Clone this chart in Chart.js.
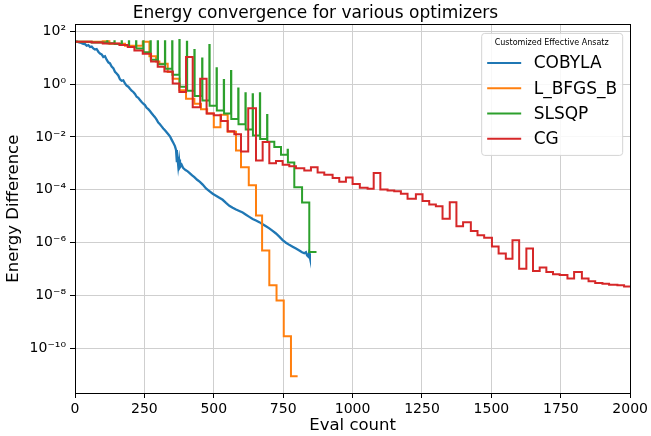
<!DOCTYPE html>
<html>
<head>
<meta charset="utf-8">
<script src="https://cdn.jsdelivr.net/npm/chart.js@4.4.1/dist/chart.umd.min.js"></script>
<style>
  html, body { margin: 0; padding: 0; background: #fff; }
</style>
</head>
<body>
<canvas id="energyChart" width="651" height="436"></canvas>
<script>
// Energy convergence

const yTickPowers = [2, 0, -2, -4, -6, -8, -10];

// COBYLA (noisy, plain line)
const cobylaEvals = [0, 8, 15, 22, 30, 36, 42, 48, 54, 60,
    66, 72, 78, 84, 90, 96, 102, 108, 114, 120,
    126, 132, 138, 144, 150, 156, 162, 168, 174, 180,
    186, 192, 198, 204, 210, 216, 222, 228, 234, 240,
    246, 252, 258, 264, 270, 276, 282, 288, 294, 300,
    306, 312, 318, 324, 330, 336, 342, 348, 354, 360,
    364, 367, 369, 372, 375, 378, 384, 390, 398, 406,
    414, 422, 430, 440, 450, 460, 472, 484, 496, 508,
    520, 532, 544, 556, 568, 580, 592, 604, 616, 628,
    640, 652, 664, 676, 688, 700, 712, 724, 736, 748,
    760, 772, 784, 796, 808, 818, 826, 832, 836, 840,
    843, 846];
const cobylaDiffs = [41, 40, 37, 36, 33, 32, 28, 29.5, 25, 26,
    22, 20, 21, 16.6, 14.1, 13.2, 10.5, 11.2, 8.3, 6.6,
    6.0, 4.6, 4.0, 2.9, 2.5, 2.1, 1.5, 1.32, 1.38, 1.05,
    0.87, 0.79, 0.66, 0.56, 0.50, 0.42, 0.33, 0.30, 0.25, 0.21,
    0.18, 0.16, 0.126, 0.112, 0.095, 0.079, 0.066, 0.056, 0.045, 0.035,
    0.030, 0.025, 0.021, 0.0178, 0.0151, 0.0126, 0.0105, 0.0079, 0.0060, 0.0045,
    0.0032, 0.00112, 0.00178, 0.00079, 0.00141, 0.00071, 0.00089, 0.00066, 0.00056, 0.00050,
    0.00042, 0.00035, 0.00030, 0.00024, 0.00020, 1.58e-4, 1.12e-4, 8.9e-5, 7.1e-5, 6.0e-5,
    5.0e-5, 4.2e-5, 3.2e-5, 2.5e-5, 2.1e-5, 1.8e-5, 1.58e-5, 1.38e-5, 1.15e-5, 9.5e-6,
    7.9e-6, 6.9e-6, 6.0e-6, 5.0e-6, 4.2e-6, 3.5e-6, 2.8e-6, 2.24e-6, 1.7e-6, 1.26e-6,
    1.0e-6, 8.3e-7, 7.1e-7, 6.0e-7, 5.1e-7, 4.4e-7, 4.0e-7, 4.4e-7, 3.3e-7, 3.0e-7,
    4.0e-7, 2.8e-7];

// L_BFGS_B (steps: value holds from this eval until the next one)
const bfgsEvals = [0, 100, 124, 180, 244, 268, 292, 304, 334, 352,
    376, 400, 430, 454, 476, 500, 524, 550, 580, 598,
    626, 652, 674, 700, 726, 752, 778, 802];
const bfgsDiffs = [39.8, 41.7, 33.1, 28.2, 39.8, 11.2, 7.08, 5.89, 2.82, 1.58,
    0.575, 0.275, 0.178, 0.112, 0.0759, 0.0234, 0.0692, 0.0158, 0.00309, 7.2e-4,
    1.48e-4, 1.07e-5, 5.1e-7, 2.45e-8, 6.6e-9, 2.95e-10, 8.9e-12, 8.9e-12];

// SLSQP (steps with single-eval line-search spikes)
const slsqpEvals = [0, 60, 116, 117, 142, 143, 168, 169, 194, 195,
    220, 221, 246, 247, 272, 273, 298, 299, 324, 325,
    350, 351, 376, 377, 403, 404, 430, 431, 458, 459,
    484, 485, 510, 511, 536, 537, 562, 563, 588, 589,
    614, 615, 640, 641, 666, 667, 692, 693, 718, 742,
    766, 767, 790, 818, 844, 870];
const slsqpDiffs = [39.8, 37.2, 41.7, 34.7, 41.7, 32.4, 41.7, 29.5, 41.7, 25.1,
    41.7, 21.9, 41.7, 15.8, 41.7, 8.3, 41.7, 5.6, 41.7, 3.8,
    41.7, 2.24, 45.7, 0.79, 39.8, 0.56, 19.1, 0.355, 9.3, 0.24,
    29.5, 0.151, 3.9, 0.1, 1.41, 0.076, 3.1, 0.048, 0.68, 0.030,
    0.45, 0.019, 0.41, 0.0112, 0.45, 0.0083, 0.068, 0.0065, 0.0042, 0.00214,
    0.0033, 0.00107, 1.26e-4, 3.3e-5, 4.5e-7, 4.5e-7];

// CG (steps)
const cgEvals = [0, 60, 100, 160, 190, 214, 244, 274, 298, 322,
    352, 376, 400, 424, 451, 474, 500, 526, 550, 574,
    598, 624, 652, 676, 700, 724, 748, 772, 796, 826,
    850, 874, 898, 928, 952, 976, 1000, 1026, 1054, 1076,
    1100, 1126, 1150, 1174, 1198, 1228, 1252, 1276, 1300, 1324,
    1350, 1374, 1398, 1426, 1450, 1474, 1502, 1526, 1552, 1576,
    1600, 1626, 1650, 1674, 1698, 1722, 1746, 1774, 1798, 1826,
    1850, 1874, 1900, 1924, 1954, 1978, 2000];
const cgDiffs = [39.8, 37.2, 33.9, 29.5, 25.1, 18.6, 13.8, 7.08, 4.47, 2.95,
    1.05, 0.501, 10.5, 0.132, 1.58, 0.0759, 0.0661, 0.0398, 0.0162, 0.0126,
    0.00282, 0.120, 0.00129, 0.00646, 0.00102, 0.00123, 8.9e-4, 7.8e-4, 6.6e-4, 5.4e-4,
    7.1e-4, 4.5e-4, 3.7e-4, 2.8e-4, 2.0e-4, 2.9e-4, 1.66e-4, 1.2e-4, 1.1e-4, 4.3e-4,
    1.02e-4, 9.5e-5, 8.9e-5, 7.1e-5, 4.6e-5, 6.8e-5, 3.8e-5, 2.8e-5, 2.4e-5, 8.1e-6,
    3.4e-5, 4.2e-6, 6.0e-6, 2.75e-6, 1.9e-6, 1.55e-6, 7.2e-7, 3.9e-7, 2.5e-7, 1.23e-6,
    1.05e-7, 6.0e-7, 8.5e-8, 1.15e-7, 7.8e-8, 6.5e-8, 6.0e-8, 4.4e-8, 7.8e-8, 4.4e-8,
    3.5e-8, 3.0e-8, 2.8e-8, 2.6e-8, 2.45e-8, 2.24e-8, 2.24e-8];

const FONT = 'DejaVu Sans';
Chart.defaults.font.family = FONT;
Chart.defaults.color = '#000';

const toPoints = (xs, ys) => xs.map((x, i) => ({ x: x, y: ys[i] }));

const SUP = { '-': '\u207B', '0': '\u2070', '1': '\u00B9', '2': '\u00B2', '3': '\u00B3',
    '4': '\u2074', '5': '\u2075', '6': '\u2076', '7': '\u2077', '8': '\u2078', '9': '\u2079' };
const sup = n => String(n).split('').map(c => SUP[c]).join('');

// full box around the axes (matplotlib spines)
const framePlugin = {
    id: 'frame',
    afterDatasetsDraw(chart) {
        const a = chart.chartArea, c = chart.ctx;
        c.save();
        c.strokeStyle = '#000';
        c.lineWidth = 1;
        c.strokeRect(Math.round(a.left) + 0.5, Math.round(a.top) + 0.5,
            Math.round(a.right - a.left), Math.round(a.bottom - a.top));
        c.restore();
    }
};

// legend box in the upper right, with its own small title
const boxLegend = {
    id: 'boxLegend',
    afterDraw(chart) {
        const a = chart.chartArea, c = chart.ctx;
        const w = 141, h = 122;
        const x0 = a.right - 8 - w, y0 = a.top + 8.5;
        c.save();
        c.beginPath();
        c.roundRect(x0 + 0.5, y0 + 0.5, w, h, 3);
        c.fillStyle = 'rgba(255,255,255,0.85)';
        c.fill();
        c.strokeStyle = '#d4d4d4';
        c.lineWidth = 1;
        c.stroke();

        c.fillStyle = '#000';
        c.textBaseline = 'middle';
        c.textAlign = 'center';
        c.font = '8px "' + FONT + '"';
        c.fillText('Customized Effective Ansatz', x0 + w / 2, y0 + 10.5);

        c.textAlign = 'left';
        c.font = '17px "' + FONT + '"';
        chart.data.datasets.forEach((ds, i) => {
            const yy = y0 + 30 + i * 25.3;
            c.strokeStyle = ds.borderColor;
            c.lineWidth = 2;
            c.beginPath();
            c.moveTo(x0 + 6, yy);
            c.lineTo(x0 + 40, yy);
            c.stroke();
            c.fillText(ds.label, x0 + 52.5, yy + 1);
        });
        c.restore();
    }
};

const ctx = document.getElementById('energyChart').getContext('2d');
new Chart(ctx, {
    type: 'line',
    data: {
        datasets: [
            { label: 'COBYLA', data: toPoints(cobylaEvals, cobylaDiffs), borderColor: '#1f77b4', borderWidth: 2.3, order: 4 },
            { label: 'L_BFGS_B', data: toPoints(bfgsEvals, bfgsDiffs), borderColor: '#ff7f0e', borderWidth: 2, stepped: 'before', order: 3 },
            { label: 'SLSQP', data: toPoints(slsqpEvals, slsqpDiffs), borderColor: '#2ca02c', borderWidth: 2, stepped: 'before', order: 2 },
            { label: 'CG', data: toPoints(cgEvals, cgDiffs), borderColor: '#d62728', borderWidth: 2, stepped: 'before', order: 1 }
        ]
    },
    options: {
        responsive: false,
        animation: false,
        elements: { point: { radius: 0 }, line: { tension: 0, fill: false } },
        layout: { padding: { left: 0, right: 20, top: 0, bottom: 0 } },
        plugins: {
            legend: { display: false },
            tooltip: { enabled: false },
            title: {
                display: true,
                text: 'Energy convergence for various optimizers',
                font: { size: 17, weight: 'normal' },
                color: '#000',
                padding: { top: 3, bottom: 1 }
            }
        },
        scales: {
            x: {
                type: 'linear',
                min: 0,
                max: 2000,
                ticks: { stepSize: 250, font: { size: 14 }, color: '#000', padding: 3, maxRotation: 0,
                    callback: v => String(v) },
                grid: { color: '#cfcfcf', tickColor: '#000', tickLength: 5 },
                border: { color: '#000' },
                title: { display: true, text: 'Eval count', font: { size: 16.5 }, color: '#000', padding: { top: 4, bottom: 0 } },
                afterFit: s => { s.height = 43; }
            },
            y: {
                type: 'logarithmic',
                min: 2.09e-12,
                max: 179,
                afterBuildTicks: s => { s.ticks = yTickPowers.map(p => ({ value: Math.pow(10, p) })); },
                ticks: {
                    font: { size: 14 },
                    color: '#000',
                    padding: 4,
                    callback: v => '10' + sup(Math.round(Math.log10(v)))
                },
                grid: { color: '#cfcfcf', tickColor: '#000', tickLength: 5 },
                border: { color: '#000' },
                title: { display: true, text: 'Energy Difference', font: { size: 16.5 }, color: '#000', padding: 4 },
                afterFit: s => { s.width = 75; }
            }
        }
    },
    plugins: [framePlugin, boxLegend]
});
</script>
</body>
</html>
